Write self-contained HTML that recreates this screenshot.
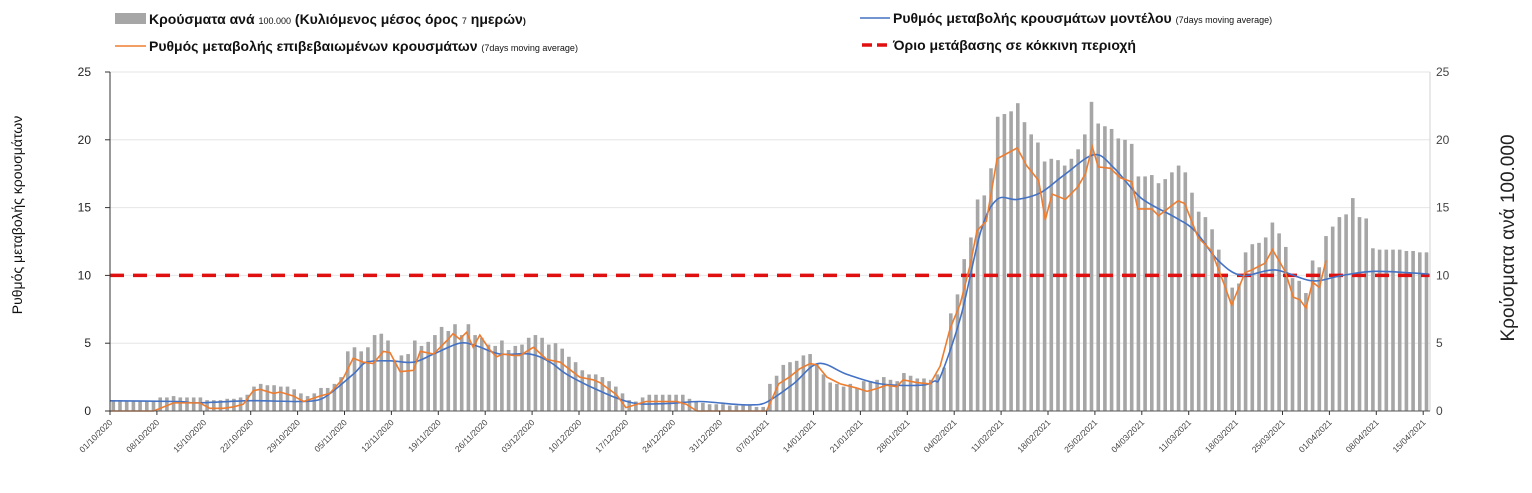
<!DOCTYPE html>
<html><head><meta charset="utf-8">
<style>
body{margin:0;background:#fff;width:1532px;height:493px;overflow:hidden;font-family:"Liberation Sans",sans-serif;}
svg{position:absolute;left:0;top:0}
</style></head>
<body>
<svg id="chart" width="1532" height="493">
<g id="grid"></g>
<g id="bars"></g>
<path id="redline" fill="none" stroke="#e01010" stroke-width="3.5" stroke-dasharray="14,9"/>
<path id="blue" fill="none" stroke="#4472c4" stroke-width="1.6"/>
<path id="orange" fill="none" stroke="#ed7d31" stroke-width="1.6"/>
<g id="axes"></g>
<g id="legend" font-weight="bold">
 <g>
  <rect x="115" y="13" width="31" height="11" fill="#a6a6a6"/>
  <text x="149" y="24" font-size="14" fill="#111">Κρούσματα ανά <tspan font-size="9" font-weight="normal">100.000</tspan> (Κυλιόμενος μέσος όρος <tspan font-size="9" font-weight="normal">7</tspan> ημερών<tspan font-size="9">)</tspan></text>
 </g>
 <g>
  <line x1="115" y1="46" x2="146" y2="46" stroke="#ed7d31" stroke-width="1.6"/>
  <text x="149" y="51" font-size="14" fill="#111">Ρυθμός μεταβολής επιβεβαιωμένων κρουσμάτων <tspan font-size="9" font-weight="normal">(7days moving average)</tspan></text>
 </g>
 <g>
  <line x1="860" y1="18" x2="890" y2="18" stroke="#4472c4" stroke-width="1.6"/>
  <text x="893" y="23" font-size="14" fill="#111">Ρυθμός μεταβολής κρουσμάτων μοντέλου <tspan font-size="9" font-weight="normal">(7days moving average)</tspan></text>
 </g>
 <g>
  <line x1="862" y1="45" x2="890" y2="45" stroke="#e01010" stroke-width="3.5" stroke-dasharray="10,5"/>
  <text x="893" y="50" font-size="14" fill="#111">Όριο μετάβασης σε κόκκινη περιοχή</text>
 </g>
</g>
<text transform="translate(22,215) rotate(-90)" text-anchor="middle" font-size="14" fill="#111">Ρυθμός μεταβολής κρουσμάτων</text>
<text transform="translate(1514,238) rotate(-90)" text-anchor="middle" font-size="19" fill="#222">Κρούσματα ανά 100.000</text>
</svg>
<script>
const barValues=[
0.8,0.8,0.7,0.7,0.7,0.7,0.7,
1.0,1.0,1.1,1.0,1.0,1.0,1.0,
0.8,0.8,0.8,0.9,0.9,1.0,1.2,
1.8,2.0,1.9,1.9,1.8,1.8,1.6,
1.3,1.1,1.3,1.7,1.7,2.0,2.5,
4.4,4.7,4.4,4.7,5.6,5.7,5.2,
3.7,4.1,4.2,5.2,4.8,5.1,5.6,
6.2,5.9,6.4,5.6,6.4,5.6,5.4,
4.9,4.8,5.2,4.5,4.8,4.9,5.4,
5.6,5.4,4.9,5.0,4.6,4.0,3.6,
3.0,2.7,2.7,2.5,2.2,1.8,1.3,
0.8,0.7,1.0,1.2,1.2,1.2,1.2,
1.2,1.2,0.9,0.7,0.6,0.5,0.5,
0.5,0.4,0.4,0.4,0.4,0.3,0.3,
2.0,2.6,3.4,3.6,3.7,4.1,4.2,
3.5,2.7,2.1,2.0,1.8,2.0,1.7,
2.2,2.2,2.3,2.5,2.3,2.2,2.8,
2.6,2.4,2.4,2.3,2.7,
3.2,7.2,8.6,11.2,12.8,15.6,15.9,17.9,21.7,21.9,
22.1,22.7,21.3,20.4,19.8,18.4,18.6,18.5,18.1,18.6,
19.3,20.4,22.8,21.2,21.0,20.8,20.1,20.0,19.7,17.3,
17.3,17.4,16.8,17.1,17.6,18.1,17.6,16.1,14.7,14.3,
13.4,11.9,9.9,9.1,9.4,11.7,12.3,12.4,12.8,13.9,
13.1,12.1,9.8,9.6,8.7,11.1,10.6,12.9,13.6,14.3,
14.5,15.7,14.3,14.2,12.0,11.9,11.9,11.9,11.9,11.8,
11.8,11.7,11.7];
const blueDays=[0,10,13,20,23,28,31,33,36.5,38.3,41.8,45.3,48.3,52.2,54.7,58.2,62.7,65.7,68.2,73,78,83,88,93,95.5,98,102,105.7,110,115,121,123,124,127,130,132.4,135.4,138.9,142.4,146.9,149.9,153.9,158.9,161.9,165.4,168.9,173.9,179.4,183.9,188.9,196.8];
const blueVals=[0.75,0.7,0.6,0.75,0.75,0.7,0.8,1.35,2.8,3.6,3.7,3.6,4.2,5.0,4.8,4.2,4.2,3.6,2.7,1.5,0.6,0.55,0.7,0.5,0.45,0.65,2.0,3.5,2.7,2.0,1.9,2.2,2.6,7.0,13.3,15.6,15.6,16.1,17.4,18.9,17.9,15.7,14.3,13.3,11.1,10.0,10.4,9.6,10.0,10.3,10.1];
const orangeDays=[0,6.5,9.5,13.4,14.9,16.9,18.4,19.9,21.4,22.4,24.4,25.4,27.4,28.9,31.3,32.8,34.8,36.3,37.8,39.3,40.8,41.8,43.3,45.3,46.3,48.3,50.3,51.2,52.2,53.2,54.2,55.2,56.7,57.7,58.7,60.2,61.2,63.2,65.2,67.2,70.1,72.1,73.1,75.6,77,80,84.6,86,87.6,98,99.8,101.4,102.9,104.5,105.5,107,109,111.4,113,114.4,115.9,117.4,118.4,120.4,122.4,123.9,125.4,126.9,128.4,129.4,130.8,132.4,135.4,136.8,138.6,139.6,140.6,142.6,144.4,145.6,146.6,147.5,149.3,150.8,152.5,153.4,155.5,156.5,159.4,160.4,162.4,164.4,166.4,167.4,169.4,170.4,172.4,173.5,175.4,176.6,177.6,178.5,179.5,180.5,181.5];
const orangeVals=[0,0,0.6,0.6,0.2,0.2,0.3,0.5,1.5,1.6,1.3,1.4,1.1,0.7,1.1,1.3,2.4,3.9,3.6,3.5,4.4,4.3,2.9,3.0,4.4,4.2,5.2,5.7,5.3,5.8,4.7,5.6,4.5,4.0,4.2,4.1,4.1,4.7,3.8,3.6,2.5,2.3,2.1,1.2,0.25,0.7,0.7,0.5,0,0,2.0,2.5,3.1,3.5,3.4,2.5,2.0,1.7,1.45,1.65,1.9,1.8,2.3,2.1,2.0,3.3,6.1,7.9,10.8,13.3,14.0,18.6,19.4,18.1,17.0,14.1,16.0,15.6,16.5,17.5,19.5,18.0,17.9,17.2,16.9,14.9,14.9,14.4,15.5,15.3,12.8,11.8,9.2,7.8,10.2,10.4,10.9,11.9,10.3,8.4,8.2,7.6,9.5,9.1,11.1];
const yTicks=[0,5,10,15,20,25];
const threshold=10;
const xLabels=["01/10/2020","08/10/2020","15/10/2020","22/10/2020","29/10/2020","05/11/2020","12/11/2020","19/11/2020","26/11/2020","03/12/2020","10/12/2020","17/12/2020","24/12/2020","31/12/2020","07/01/2021","14/01/2021","21/01/2021","28/01/2021","04/02/2021","11/02/2021","18/02/2021","25/02/2021","04/03/2021","11/03/2021","18/03/2021","25/03/2021","01/04/2021","08/04/2021","15/04/2021"];

const X0=110,DX=6.7,Y0=411,YS=(411-72)/25,XR=1430;
const xs=d=>X0+d*DX, ys=v=>Y0-v*YS;
const NS="http://www.w3.org/2000/svg";
function mk(tag,parent,attrs){const e=document.createElementNS(NS,tag);for(const k in attrs)e.setAttribute(k,attrs[k]);parent.appendChild(e);return e;}
const grid=document.getElementById('grid'),axes=document.getElementById('axes'),bars=document.getElementById('bars');
yTicks.forEach(v=>{
 if(v>0){const g=mk('line',grid,{x1:X0,x2:XR,y1:ys(v),y2:ys(v),stroke:'#e6e6e6','stroke-width':1});
 
 }
 const t=mk('text',axes,{x:91,y:ys(v)+4,'text-anchor':'end','font-size':12,fill:'#222'});t.textContent=v;
 
 
 const t2=mk('text',axes,{x:1436,y:ys(v)+4,'font-size':12,fill:'#444'});t2.textContent=v;
 
 
 const tk=mk('line',axes,{x1:X0-5,x2:X0,y1:ys(v),y2:ys(v),stroke:'#333'});
 
 
});
barValues.forEach((v,i)=>{if(v<=0)return;
 const r=mk('rect',bars,{x:xs(i)+1.5,y:ys(v),width:3.6,height:v*YS,fill:'#a6a6a6'});
 
 
});
function smooth(days,vals){let p=days.map((d,i)=>[xs(d),ys(vals[i])]);let s='M'+p[0][0]+','+p[0][1];
 for(let i=0;i<p.length-1;i++){const a=p[Math.max(0,i-1)],b=p[i],c=p[i+1],d=p[Math.min(p.length-1,i+2)];
 s+=` C${b[0]+(c[0]-a[0])/6},${b[1]+(c[1]-a[1])/6} ${c[0]-(d[0]-b[0])/6},${c[1]-(d[1]-b[1])/6} ${c[0]},${c[1]}`;}return s;}
document.getElementById('blue').setAttribute('d',smooth(blueDays,blueVals));
document.getElementById('orange').setAttribute('d','M'+orangeDays.map((d,i)=>xs(d)+','+ys(orangeVals[i])).join(' L'));
document.getElementById('redline').setAttribute('d',`M${X0},${ys(threshold)} L${XR},${ys(threshold)}`);
mk('line',axes,{x1:X0,x2:X0,y1:ys(25),y2:Y0,stroke:'#333'});
mk('line',axes,{x1:XR,x2:XR,y1:ys(25),y2:Y0,stroke:'#d0d0d0'});
mk('line',axes,{x1:X0,x2:XR,y1:Y0,y2:Y0,stroke:'#555'});
xLabels.forEach((l,i)=>{const x=xs(i*7);
 const tk=mk('line',axes,{x1:x,x2:x,y1:Y0,y2:Y0+4,stroke:'#333'});
 
 
 const t=mk('text',axes,{x:x+3,y:Y0+12,'text-anchor':'end','font-size':8.5,fill:'#444',transform:`rotate(-45 ${x+3} ${Y0+12})`});t.textContent=l;
 
 
});
</script>
</body></html>
